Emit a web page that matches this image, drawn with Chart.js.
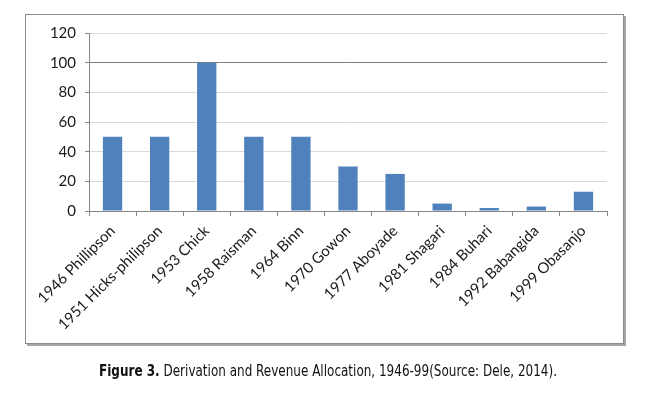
<!DOCTYPE html>
<html>
<head>
<meta charset="utf-8">
<script src="https://cdn.jsdelivr.net/npm/chart.js@4/dist/chart.umd.min.js"></script>
<style>
  html, body { margin: 0; padding: 0; background: #fff; }
  #wrap { position: relative; width: 665px; height: 397px; }
  #box {
    position: absolute; left: 25px; top: 14px; width: 597px; height: 328px;
    border: 1px solid #8c8c8c;
    box-shadow: 2px 2px 0 #a6a6a6;
  }
  #chart { position: absolute; left: 0; top: 0; }
  #caption {
    position: absolute; left: 328px; top: 362px; white-space: nowrap;
    transform: translateX(-50%) scaleX(0.89);
    font-family: "DejaVu Sans Condensed", "Liberation Sans Narrow", sans-serif;
    font-size: 15px; color: #111;
  }
</style>
</head>
<body>
<div id="wrap">
  <div id="box"></div>
  <canvas id="chart" width="665" height="397"></canvas>
  <div id="caption"><b>Figure 3.</b> Derivation and Revenue Allocation, 1946-99(Source: Dele, 2014).</div>
</div>
<script>
const categories = ["1946 Phillipson", "1951 Hicks-philipson", "1953 Chick", "1958 Raisman",
  "1964 Binn", "1970 Gowon", "1977 Aboyade", "1981 Shagari", "1984 Buhari",
  "1992 Babangida", "1999 Obasanjo"];
const values = [50, 50, 100, 50, 50, 30, 25, 5, 2, 3, 13];
const yTicks = [0, 20, 40, 60, 80, 100, 120];

let chart;

function initChart(){
  chart = new Chart(document.getElementById("chart"), {
    type: "bar",
    data: {
      labels: categories,
      datasets: [{
        data: values,
        backgroundColor: "#4f81bd",
        barPercentage: 0.41,
        categoryPercentage: 1
      }]
    },
    options: {
      responsive: false,
      animation: false,
      layout: { padding: { left: 0, top: 33, right: 58, bottom: 0 } },
      plugins: { legend: { display: false }, tooltip: { enabled: false } },
      scales: {
        x: {
          offset: true,
          grid: {
            offset: true,
            drawOnChartArea: false,
            drawTicks: true,
            tickLength: 5,
            color: "#868686"
          },
          border: { color: "#868686" },
          ticks: {
            minRotation: 45,
            maxRotation: 45,
            autoSkip: false,
            padding: 6,
            color: "#1a1a1a",
            font: { family: "Lato, 'Open Sans', sans-serif", size: 15 }
          },
          afterFit(scale){ scale.height = 186; }
        },
        y: {
          min: 0,
          max: 120,
          afterBuildTicks(scale){ scale.ticks = yTicks.map(v => ({ value: v })); },
          grid: {
            color: ctx => ctx.tick && ctx.tick.value === 100 ? "#7f7f7f" : "#d9d9d9",
            tickLength: 4,
            tickColor: "#868686"
          },
          border: { color: "#868686" },
          ticks: {
            padding: 9,
            color: "#1a1a1a",
            font: { family: "Lato, 'Open Sans', sans-serif", size: 15 }
          },
          afterFit(scale){ scale.width = 89; }
        }
      }
    }
  });
}

initChart();
</script>
</body>
</html>
